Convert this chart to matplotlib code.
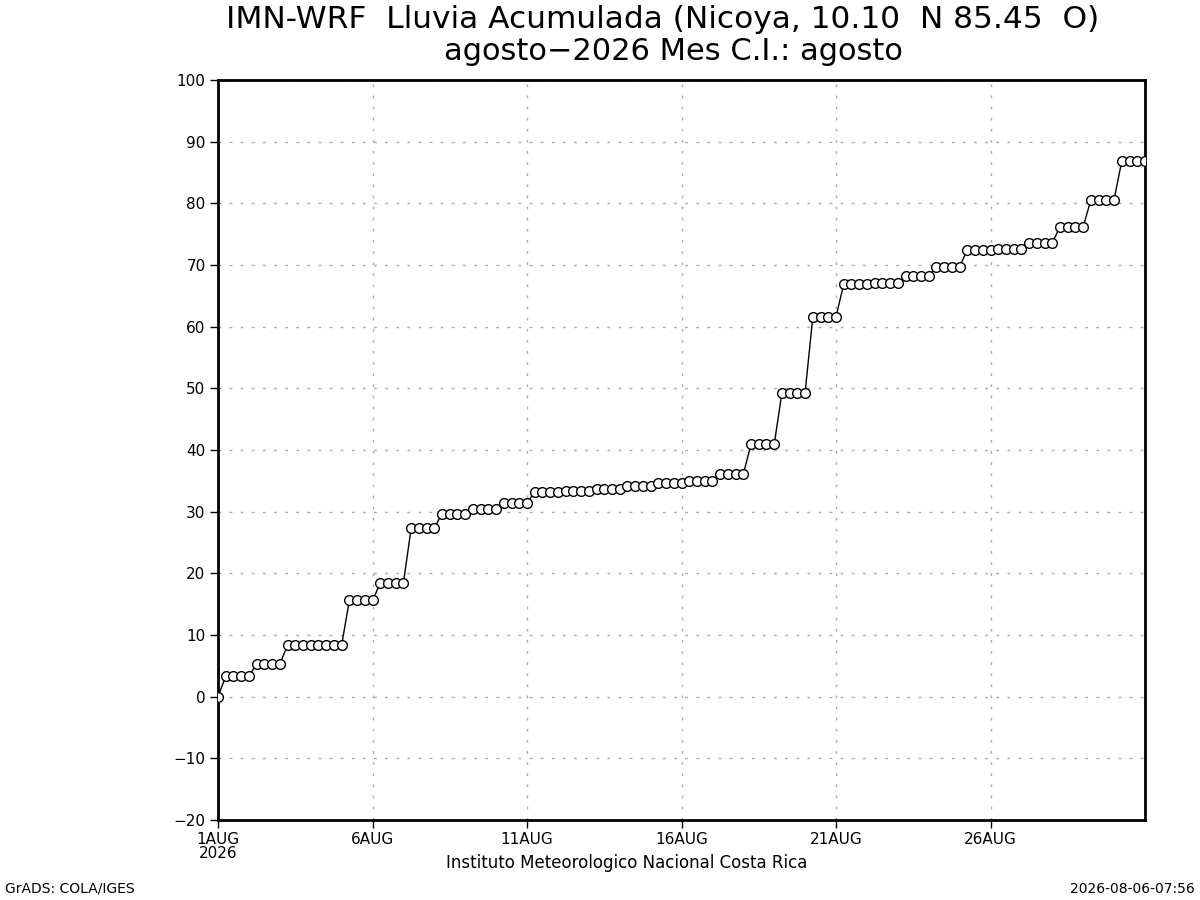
import numpy as np
import matplotlib
matplotlib.use("Agg")
import matplotlib.pyplot as plt

# lluvia acumulada cada 6 horas desde 1AUG 00Z (mm)
lluvia = [0.0,
          3.3, 3.3, 3.3, 3.3,
          5.3, 5.3, 5.3, 5.3,
          8.3, 8.3, 8.3, 8.3,
          8.3, 8.3, 8.3, 8.3,
          15.6, 15.6, 15.6, 15.6,
          18.4, 18.4, 18.4, 18.4,
          27.3, 27.3, 27.3, 27.3,
          29.7, 29.7, 29.7, 29.7,
          30.5, 30.5, 30.5, 30.5,
          31.4, 31.4, 31.4, 31.4,
          33.2, 33.2, 33.2, 33.2,
          33.4, 33.4, 33.4, 33.4,
          33.7, 33.7, 33.7, 33.7,
          34.2, 34.2, 34.2, 34.2,
          34.6, 34.6, 34.6, 34.6,
          34.9, 34.9, 34.9, 34.9,
          36.1, 36.1, 36.1, 36.1,
          40.9, 40.9, 40.9, 40.9,
          49.3, 49.3, 49.3, 49.3,
          61.6, 61.6, 61.6, 61.6,
          66.9, 66.9, 66.9, 66.9,
          67.1, 67.1, 67.1, 67.1,
          68.2, 68.2, 68.2, 68.2,
          69.7, 69.7, 69.7, 69.7,
          72.5, 72.5, 72.5, 72.5,
          72.6, 72.6, 72.6, 72.6,
          73.6, 73.6, 73.6, 73.6,
          76.2, 76.2, 76.2, 76.2,
          80.6, 80.6, 80.6, 80.6,
          86.9, 86.9, 86.9, 86.9]

dias_ticks = [0, 5, 10, 15, 20, 25]
etiquetas_x = ['1AUG\n2026', '6AUG', '11AUG', '16AUG', '21AUG', '26AUG']
yticks = list(range(-20, 101, 10))

titulo1 = 'IMN-WRF  Lluvia Acumulada (Nicoya, 10.10  N 85.45  O)'
titulo2 = 'agosto\u22122026 Mes C.I.: agosto'

plt.rcParams['font.family'] = ['DejaVu Sans']

fig = plt.figure(figsize=(12, 9), dpi=100)
ax = fig.add_axes([218/1200, 1-820/900, (1145-218)/1200, (820-80)/900])

x = np.arange(len(lluvia)) * 0.25  # dias desde 1AUG 00Z
ax.plot(x, lluvia, color='black', lw=1, marker='o', ms=7,
        mfc='white', mec='black', mew=1, zorder=3)

ax.set_xlim(0, 30)
ax.set_ylim(-20, 100)
ax.set_yticks(yticks)
ax.set_yticklabels([str(v).replace('-', '\u2212') for v in yticks])
ax.set_xticks(dias_ticks)
ax.set_xticklabels(etiquetas_x, linespacing=0.9)

ax.grid(True, color='#aaaaaa', linestyle=(0, (2, 6)), lw=1)
for s in ax.spines.values():
    s.set_linewidth(2)
ax.tick_params(axis='both', direction='out', length=6, width=1,
               labelsize=11, pad=3)

fig.text(663/1200, 1-20/900, titulo1, ha='center', va='center', fontsize=22.5)
fig.text(673/1200, 1-52/900, titulo2, ha='center', va='center', fontsize=22)
fig.text(627/1200, 1-863/900, 'Instituto Meteorologico Nacional Costa Rica',
         ha='center', va='center', fontsize=12)
fig.text(5/1200, 1-889/900, 'GrADS: COLA/IGES', ha='left', va='center',
         fontsize=10)
fig.text(1195/1200, 1-889/900, '2026-08-06-07:56', ha='right', va='center',
         fontsize=10)

fig.savefig('out.png', dpi=100)
